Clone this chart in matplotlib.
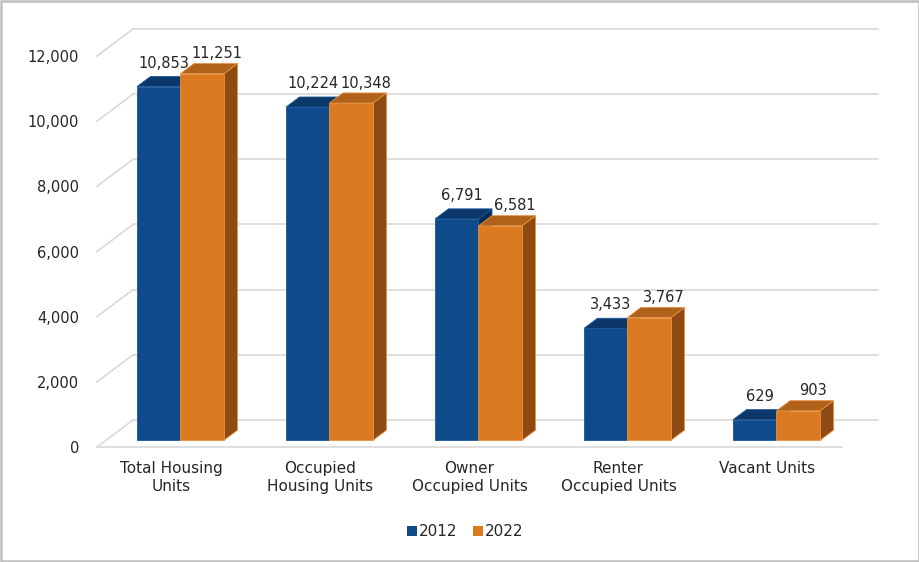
import numpy as np
import matplotlib
matplotlib.use("Agg")
import matplotlib.pyplot as plt
from matplotlib.transforms import offset_copy, IdentityTransform
from matplotlib.patches import Polygon, Patch, Rectangle

# ---------------- data ----------------
categories = ["Total Housing\nUnits", "Occupied\nHousing Units", "Owner\nOccupied Units",
              "Renter\nOccupied Units", "Vacant Units"]
series_names = ["2012", "2022"]
values_2012 = [10853, 10224, 6791, 3433, 629]
values_2022 = [11251, 10348, 6581, 3767, 903]
y_ticks = [0, 2000, 4000, 6000, 8000, 10000, 12000]

# ---------------- style ----------------
front_cols = ["#0F4A8A", "#DC7A22"]
top_cols = ["#0B3769", "#B1621A"]
side_cols = ["#082B52", "#8D4A13"]
edge_cols = ["#1A5699", "#E8913E"]
text_col = "#262626"
grid_col = "#D9D9D9"
plt.rcParams['font.family'] = ['DejaVu Sans']

W, H = 920, 562
fig = plt.figure(figsize=(W / 100, H / 100), dpi=100)
# front plane of the 3-D box: x 97..842 px, y (from top) 447..56 px
ax = fig.add_axes([97 / W, (H - 447) / H, 745 / W, 391 / H])
ax.set_xlim(0, len(categories))
ax.set_ylim(0, 12000)
for s in ax.spines.values():
    s.set_visible(False)
ax.patch.set_alpha(0)

DEPTH = np.array([36.0, 27.0])   # display offset of the back wall
D1, D2 = 0.25, 0.625             # bar front / back depth fractions
BAR_W = 0.292
LABEL_DX = [14, 24]              # label shift (px) per series
LABEL_DY = [19, 15.5]


def tr(d):
    return offset_copy(ax.transData, fig=fig, x=DEPTH[0] * d, y=DEPTH[1] * d, units='dots')


def disp(x, y, d):
    p = ax.transData.transform((x, y))
    return p + d * DEPTH


# back wall gridlines
for v in y_ticks:
    ax.plot([0, len(categories)], [v, v], color=grid_col, lw=1.2, transform=tr(1.0),
            clip_on=False, zorder=1)
    p0, p1 = disp(0, v, 0), disp(0, v, 1.0)
    ax.add_line(plt.Line2D([p0[0], p1[0]], [p0[1], p1[1]], color=grid_col, lw=1.2,
                           transform=IdentityTransform(), clip_on=False, zorder=1))
# floor front edge
ax.plot([0, len(categories)], [0, 0], color=grid_col, lw=1.2, transform=tr(0.0),
        clip_on=False, zorder=1)

# bars
all_vals = [values_2012, values_2022]
xc = np.arange(len(categories)) + 0.5
for i in range(len(categories)):
    for s in range(2):
        v = all_vals[s][i]
        x0 = xc[i] - BAR_W + s * BAR_W
        x1 = x0 + BAR_W
        z = 3 + i * 10 + s * 3
        # side face
        side = [disp(x1, 0, D1), disp(x1, v, D1), disp(x1, v, D2), disp(x1, 0, D2)]
        ax.add_patch(Polygon(side, closed=True, facecolor=side_cols[s], edgecolor=edge_cols[s],
                             lw=0.6, transform=IdentityTransform(), clip_on=False, zorder=z))
        # top face
        top = [disp(x0, v, D1), disp(x1, v, D1), disp(x1, v, D2), disp(x0, v, D2)]
        ax.add_patch(Polygon(top, closed=True, facecolor=top_cols[s], edgecolor=edge_cols[s],
                             lw=0.6, transform=IdentityTransform(), clip_on=False, zorder=z + 1))
        # front face
        ax.bar(x0, v, width=BAR_W, align='edge', color=front_cols[s], edgecolor=edge_cols[s],
               lw=0.6, transform=tr(D1), clip_on=False, zorder=z + 2)
        # value label
        ax.text(x0 + BAR_W / 2, v, f"{v:,}", ha='center', va='baseline', fontsize=10.5,
                color=text_col, zorder=100,
                transform=offset_copy(ax.transData, fig=fig, x=LABEL_DX[s],
                                      y=DEPTH[1] * D1 + LABEL_DY[s], units='dots'))

# axes ticks
ax.set_yticks(y_ticks)
ax.set_yticklabels([f"{v:,}" for v in y_ticks], fontsize=10.5, color=text_col)
ax.set_xticks(xc)
ax.set_xticklabels(categories, fontsize=11, color=text_col, linespacing=1.25)
ax.tick_params(axis='y', length=0, pad=13)
ax.tick_params(axis='x', length=0, pad=10)

# legend
handles = [Patch(facecolor=front_cols[k], edgecolor='none', label=series_names[k]) for k in range(2)]
fig.legend(handles=handles, loc='center', bbox_to_anchor=(465 / W, 1 - 532 / H), ncol=2,
           frameon=False, fontsize=11, handlelength=0.65, handleheight=0.65,
           handletextpad=0.15, columnspacing=1.0, labelcolor=text_col)

# outer border
fig.add_artist(Rectangle((1 / W, 1 / H), (W - 2) / W, (H - 2) / H, transform=fig.transFigure,
                         facecolor='none', edgecolor='#BFBFBF', lw=1.8))

fig.savefig("out.png", dpi=100)
